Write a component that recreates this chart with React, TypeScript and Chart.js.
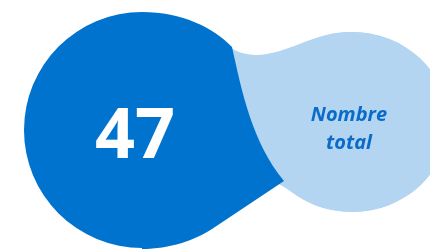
import React, { useEffect, useRef } from "react";
import { Chart, registerables } from "chart.js";

Chart.register(...registerables);

const totalValue = [47];
const labelLines = ["Nombre", "total"];
const darkColor = "#0073CF";
const lightColor = "#B3D5F1";
const labelColor = "#0A6CC8";

const blobPlugin = {
  id: "blobs",
  beforeDatasetsDraw(chart: any) {
    const { ctx, scales } = chart;
    const X = (v: number) => scales.x.getPixelForValue(v);
    const Y = (v: number) => scales.y.getPixelForValue(v);
    const R = (r: number) => Math.abs(scales.x.getPixelForValue(r) - scales.x.getPixelForValue(0));
    ctx.save();
    // light blob
    ctx.fillStyle = lightColor;
    ctx.beginPath();
    ctx.moveTo(X(225), Y(44));
    ctx.bezierCurveTo(X(265), Y(75), X(305), Y(30), X(352), Y(32));
    ctx.ellipse(X(352), Y(122), R(96), R(90), 0, -Math.PI / 2, Math.PI * 0.72, false);
    ctx.lineTo(X(240), Y(160));
    ctx.closePath();
    ctx.fill();
    ctx.beginPath();
    ctx.ellipse(X(352), Y(122), R(96), R(90), 0, 0, Math.PI * 2);
    ctx.fill();
    // dark blob
    ctx.fillStyle = darkColor;
    ctx.beginPath();
    ctx.moveTo(X(142), Y(12));
    ctx.bezierCurveTo(X(182), Y(12), X(214), Y(28), X(232), Y(47));
    ctx.bezierCurveTo(X(242), Y(92), X(252), Y(142), X(284), Y(181));
    ctx.lineTo(X(212), Y(229));
    ctx.bezierCurveTo(X(195), Y(240), X(170), Y(249), X(142), Y(249));
    ctx.arc(X(142), Y(130), R(118), Math.PI / 2, Math.PI * 1.5, false);
    ctx.closePath();
    ctx.fill();
    // texts
    ctx.textAlign = "center";
    ctx.textBaseline = "alphabetic";
    ctx.fillStyle = "#FFFFFF";
    ctx.font = "bold 70px 'Open Sans'";
    ctx.fillText(String(totalValue[0]), X(135), Y(158));
    ctx.fillStyle = labelColor;
    ctx.font = "italic bold 20px 'Open Sans'";
    ctx.fillText(labelLines[0], X(349), Y(121));
    ctx.fillText(labelLines[1], X(349), Y(149));
    ctx.restore();
  },
};

export default function App() {
  const ref = useRef<HTMLCanvasElement>(null);
  useEffect(() => {
    document.body.style.margin = "0";
    const chart = new Chart(ref.current!, {
      type: "scatter",
      data: { datasets: [{ data: [], pointRadius: 0 }] },
      options: {
        animation: false,
        responsive: false,
        layout: { padding: 0 },
        plugins: { legend: { display: false }, tooltip: { enabled: false } },
        scales: {
          x: { type: "linear", min: 0, max: 430, display: false },
          y: { type: "linear", min: 0, max: 249, reverse: true, display: false },
        },
      },
      plugins: [blobPlugin],
    });
    return () => chart.destroy();
  }, []);
  return (
    <div style={{ width: 430, height: 249, background: "#fff" }}>
      <canvas ref={ref} width={430} height={249} />
    </div>
  );
}
